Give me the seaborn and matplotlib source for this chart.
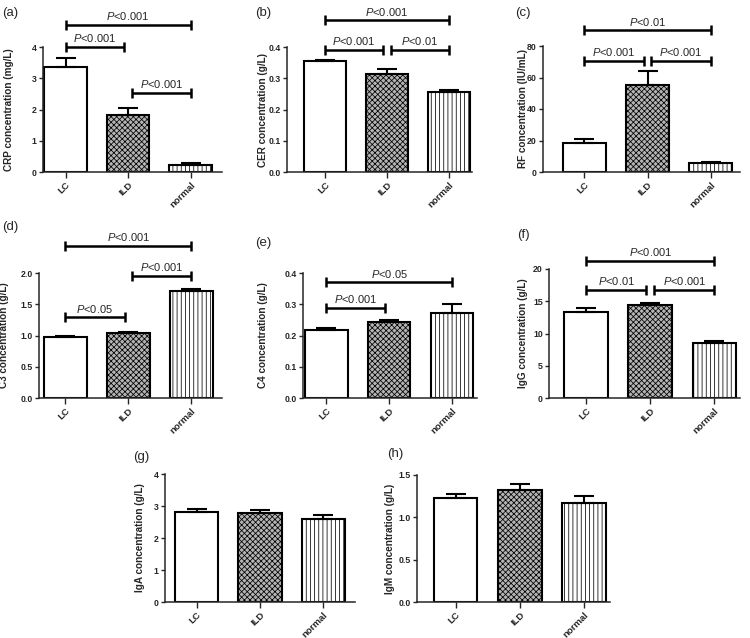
import matplotlib
matplotlib.use("Agg")
import matplotlib.pyplot as plt
import seaborn as sns
import pandas as pd

sns.set_style("ticks")
plt.rcParams["font.family"] = ["Liberation Sans", "DejaVu Sans"]
plt.rcParams["mathtext.fontset"] = "custom"
plt.rcParams["mathtext.it"] = "Liberation Sans:italic"
plt.rcParams["mathtext.rm"] = "Liberation Sans"
plt.rcParams["hatch.linewidth"] = 0.55

groups = ["LC", "ILD", "normal"]

crp_mean = [3.35, 1.83, 0.235]
crp_sem = [0.30, 0.22, 0.05]
cer_mean = [0.354, 0.315, 0.256]
cer_sem = [0.006, 0.016, 0.005]
rf_mean = [18.3, 55.2, 5.9]
rf_sem = [2.5, 8.8, 0.6]
c3_mean = [0.98, 1.035, 1.71]
c3_sem = [0.02, 0.02, 0.03]
c4_mean = [0.219, 0.243, 0.272]
c4_sem = [0.005, 0.006, 0.030]
igg_mean = [13.4, 14.37, 8.6]
igg_sem = [0.55, 0.35, 0.25]
iga_mean = [2.80, 2.77, 2.59]
iga_sem = [0.10, 0.11, 0.13]
igm_mean = [1.224, 1.32, 1.17]
igm_sem = [0.05, 0.07, 0.08]

ylabels = ["CRP concentration (mg/L)", "CER concentration (g/L)",
           "RF concentration (IU/mL)", "C3 concentration (g/L)",
           "C4 concentration (g/L)", "IgG concentration (g/L)",
           "IgA concentration (g/L)", "IgM concentration (g/L)"]
panel_letters = ["(a)", "(b)", "(c)", "(d)", "(e)", "(f)", "(g)", "(h)"]

yticks_a = [0, 1, 2, 3, 4]
yticks_b = [0.0, 0.1, 0.2, 0.3, 0.4]
yticks_c = [0, 20, 40, 60, 80]
yticks_d = [0.0, 0.5, 1.0, 1.5, 2.0]
yticks_e = [0.0, 0.1, 0.2, 0.3, 0.4]
yticks_f = [0, 5, 10, 15, 20]
yticks_g = [0, 1, 2, 3, 4]
yticks_h = [0.0, 0.5, 1.0, 1.5]

# significance comparisons: (group i, group j, height, label)
sig_a = [(0, 2, 4.71, "<0.001"), (0, 1, 3.99, "<0.001"), (1, 2, 2.53, "<0.001")]
sig_b = [(0, 2, 0.485, "<0.001"), (0, 1, 0.391, "<0.001"), (1, 2, 0.391, "<0.01")]
sig_c = [(0, 2, 89.9, "<0.01"), (0, 1, 70.5, "<0.001"), (1, 2, 70.5, "<0.001")]
sig_d = [(0, 2, 2.44, "<0.001"), (1, 2, 1.95, "<0.001"), (0, 1, 1.29, "<0.05")]
sig_e = [(0, 2, 0.37, "<0.05"), (0, 1, 0.288, "<0.001")]
sig_f = [(0, 2, 21.2, "<0.001"), (0, 1, 16.8, "<0.01"), (1, 2, 16.8, "<0.001")]
sig_g = []
sig_h = []

panels = [
    (crp_mean, crp_sem, yticks_a, "{:.0f}", sig_a),
    (cer_mean, cer_sem, yticks_b, "{:.1f}", sig_b),
    (rf_mean, rf_sem, yticks_c, "{:.0f}", sig_c),
    (c3_mean, c3_sem, yticks_d, "{:.1f}", sig_d),
    (c4_mean, c4_sem, yticks_e, "{:.1f}", sig_e),
    (igg_mean, igg_sem, yticks_f, "{:.0f}", sig_f),
    (iga_mean, iga_sem, yticks_g, "{:.0f}", sig_g),
    (igm_mean, igm_sem, yticks_h, "{:.1f}", sig_h),
]

# layout in pixels: left spine, right end, y of zero, y of top tick, xlim, ylabel x, letter pos
layout = [
    (43, 222, 172, 47, (-0.36, 2.50), 14, (2, 13)),
    (287, 472, 172, 47, (-0.61, 2.37), 268, (255, 13)),
    (543, 740, 172, 46, (-0.65, 2.46), 528, (515, 13)),
    (39, 222, 398, 273, (-0.42, 2.49), 9, (2, 227)),
    (303, 477, 398, 273, (-0.37, 2.40), 268, (255, 243)),
    (549, 740, 398, 269, (-0.58, 2.40), 528, (517, 235)),
    (165, 355, 602, 474, (-0.50, 2.50), 145, (133, 457)),
    (417, 610, 602, 475, (-0.60, 2.40), 395, (387, 454)),
]

W, H = 750, 638
fig = plt.figure(figsize=(W / 100, H / 100), dpi=100)

for k, ((means, sems, yt, fmt, sigs), (l, r, y0, yt_px, xl, ylx, lp)) in enumerate(zip(panels, layout)):
    ax = fig.add_axes([l / W, 1 - y0 / H, (r - l) / W, (y0 - yt_px) / H])
    df = pd.DataFrame({"group": groups, "value": means})
    sns.barplot(data=df, x="group", y="value", ax=ax, width=0.68, color="white",
                edgecolor="black", linewidth=1.5, errorbar=None, zorder=2)
    for i, p in enumerate(ax.patches):
        p.set_edgecolor("black")
        if i == 0:
            p.set_facecolor("white")
        elif i == 1:
            p.set_facecolor("#b4b4b4")
            p.set_hatch("xxxxxx")
        else:
            p.set_facecolor("white")
            p.set_hatch("||||")
    ax.errorbar(range(len(groups)), means, yerr=[[0] * len(sems), sems], fmt="none",
                ecolor="black", elinewidth=1.5, capsize=7, capthick=1.5, zorder=3)
    ax.set_xlim(*xl)
    ax.set_ylim(yt[0], yt[-1])
    ax.set_yticks(yt)
    ax.set_yticklabels([fmt.format(v) for v in yt], fontsize=6.3, fontweight="bold")
    ax.set_xticks(range(len(groups)))
    ax.set_xticklabels(groups, fontsize=6.8, fontweight="bold", rotation=45,
                       ha="right", rotation_mode="anchor")
    ax.set_xlabel("")
    ax.set_ylabel(ylabels[k], fontsize=7.2, fontweight="bold")
    ax.yaxis.set_label_coords((ylx - l) / (r - l), 0.5)
    for s in ["top", "right"]:
        ax.spines[s].set_visible(False)
    for s in ["left", "bottom"]:
        ax.spines[s].set_linewidth(1.1)
    ax.tick_params(axis="y", length=3, width=1, pad=1.5)
    ax.tick_params(axis="x", length=4, width=1, pad=2)

    for (i, j, y, lab) in sigs:
        x1 = i + (0.06 if i == 1 else 0)
        x2 = j - (0.06 if j == 1 else 0)
        ax.plot([x1, x2], [y, y], color="black", lw=1.8, clip_on=False,
                marker="|", markersize=7, mew=1.8, solid_capstyle="butt", zorder=4)
        ax.annotate(r"$\mathit{P}$" + lab, xy=((x1 + x2) / 2, y), xytext=(0, 3.5),
                    textcoords="offset points", ha="center", va="baseline",
                    fontsize=8, annotation_clip=False)

    fig.text(lp[0] / W, 1 - lp[1] / H, panel_letters[k], ha="left", va="center",
             fontsize=9.5)

fig.savefig("out.png", dpi=100)
